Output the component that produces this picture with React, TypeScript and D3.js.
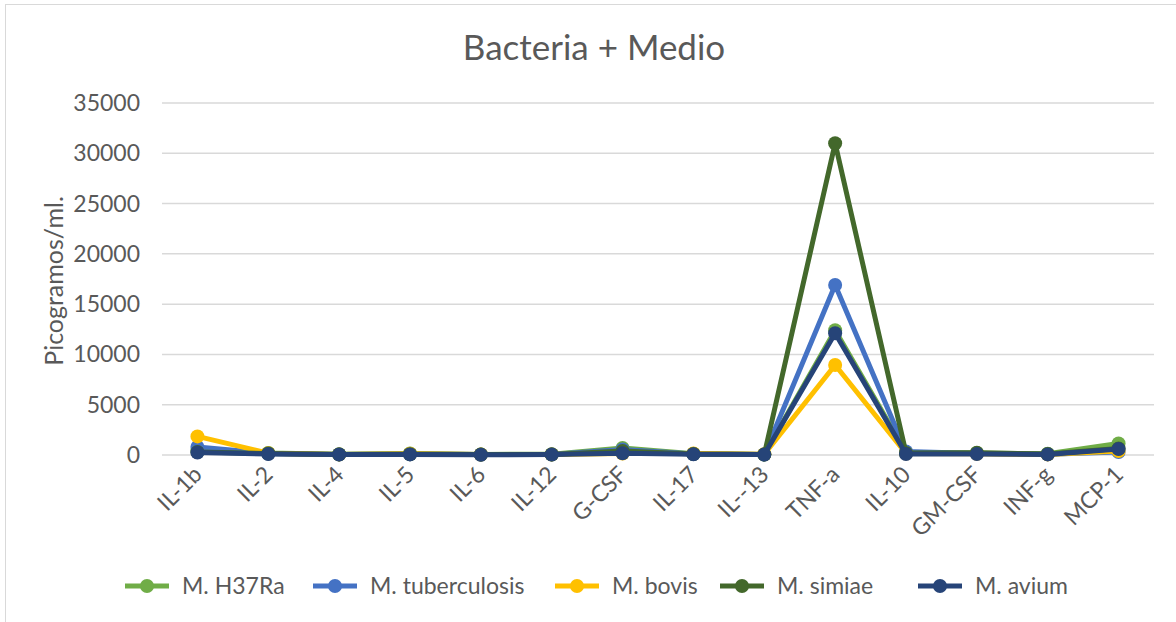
import React from "react";
import * as d3 from "d3";

const categories = ["IL-1b", "IL-2", "IL-4", "IL-5", "IL-6", "IL-12", "G-CSF", "IL-17", "IL--13", "TNF-a", "IL-10", "GM-CSF", "INF-g", "MCP-1"];
const seriesNames = ["M. H37Ra", "M. tuberculosis", "M. bovis", "M. simiae", "M. avium"];
const seriesColors = ["#70AD47", "#4472C4", "#FFC000", "#43682B", "#264478"];
const h37raValues = [500, 200, 80, 150, 60, 80, 700, 120, 60, 12400, 250, 200, 120, 1150];
const tuberculosisValues = [800, 150, 60, 100, 50, 60, 550, 100, 50, 16900, 350, 150, 80, 300];
const bovisValues = [1850, 180, 60, 120, 50, 60, 150, 150, 80, 8950, 150, 120, 60, 400];
const simiaeValues = [300, 150, 60, 80, 40, 50, 400, 100, 50, 31000, 200, 220, 100, 650];
const aviumValues = [250, 100, 50, 60, 30, 40, 170, 80, 40, 12100, 100, 100, 60, 600];
const yTicks = [0, 5000, 10000, 15000, 20000, 25000, 30000, 35000];

const allValues = [h37raValues, tuberculosisValues, bovisValues, simiaeValues, aviumValues];

const W = 1176, H = 622;
const left = 162, right = 1154, top = 103, bottom = 455;
const font = "Lato, sans-serif";

export default function App() {
  const x = d3.scalePoint<string>().domain(categories).range([left, right]).padding(0.5);
  const y = d3.scaleLinear().domain([0, 35000]).range([bottom, top]);
  const line = d3.line<number>().x((_, i) => x(categories[i]) as number).y((d) => y(d));
  const legendX = [125, 313, 555, 720, 918];
  return (
    <svg width={W} height={H} style={{ position: "absolute", left: 0, top: 0, background: "#fff" }}>
      <rect x={5.5} y={4.5} width={1180} height={640} fill="#fff" stroke="#d9d9d9" strokeWidth={1} />
      <text x={594} y={60} textAnchor="middle" fontFamily={font} fontSize={35} fill="#595959">Bacteria + Medio</text>
      {yTicks.map((t) => (
        <g key={t}>
          <line x1={left} x2={right} y1={y(t)} y2={y(t)} stroke="#d9d9d9" strokeWidth={1.5} />
          <text x={140} y={y(t) + 8} textAnchor="end" fontFamily={font} fontSize={23} fill="#595959">{t}</text>
        </g>
      ))}
      <text transform={`translate(63,${(top + bottom) / 2 + 2}) rotate(-90)`} textAnchor="middle" fontFamily={font} fontSize={25} fill="#595959">Picogramos/ml.</text>
      {categories.map((c) => (
        <text key={c} transform={`translate(${(x(c) as number) + 6},${476}) rotate(-45)`} textAnchor="end" fontFamily={font} fontSize={23} fill="#595959">{c}</text>
      ))}
      {allValues.map((vals, si) => (
        <g key={si}>
          <path d={line(vals) || ""} fill="none" stroke={seriesColors[si]} strokeWidth={5} strokeLinejoin="round" />
          {vals.map((v, i) => (
            <circle key={i} cx={x(categories[i]) as number} cy={y(v)} r={7} fill={seriesColors[si]} />
          ))}
        </g>
      ))}
      {seriesNames.map((n, i) => (
        <g key={n}>
          <line x1={legendX[i]} x2={legendX[i] + 44} y1={586} y2={586} stroke={seriesColors[i]} strokeWidth={5} />
          <circle cx={legendX[i] + 22} cy={586} r={7} fill={seriesColors[i]} />
          <text x={legendX[i] + 57} y={594} fontFamily={font} fontSize={23} fill="#595959">{n}</text>
        </g>
      ))}
    </svg>
  );
}
